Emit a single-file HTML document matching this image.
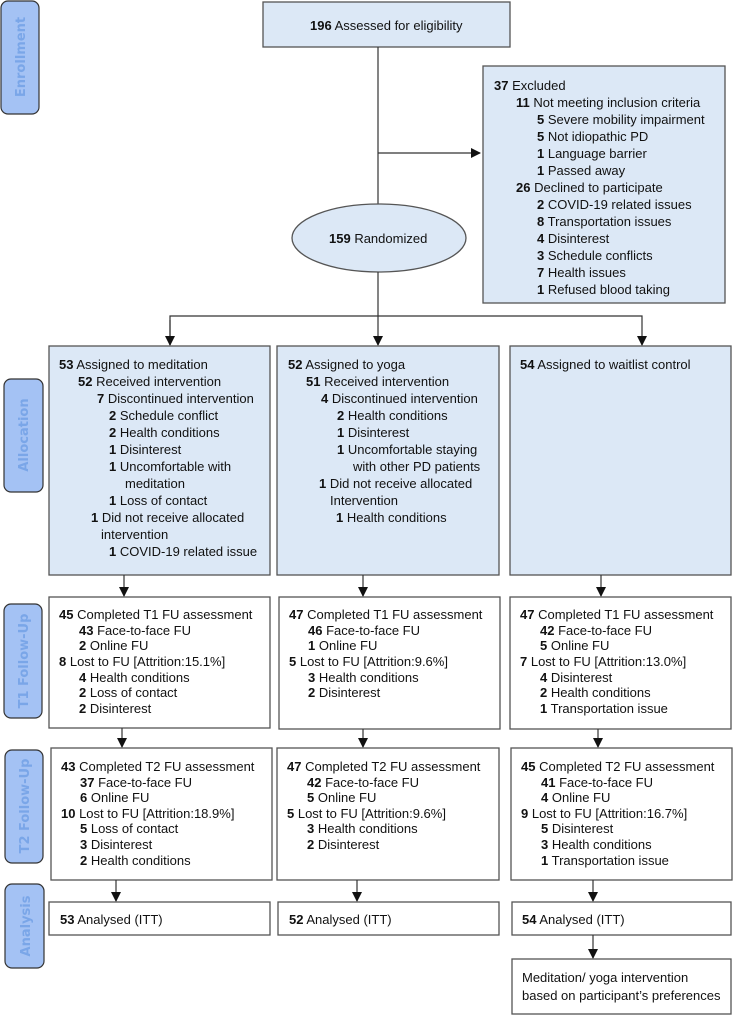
<!DOCTYPE html>
<html><head><meta charset="utf-8"><style>
html,body{margin:0;padding:0;background:#fff;}
svg{display:block;}
text{font-family:"Liberation Sans",Arial,sans-serif;font-size:13px;fill:#111;}
.b{font-weight:bold;}
.tab{fill:#a4c2f4;stroke:#333;stroke-width:1.2;}
.tt{font-family:"DejaVu Sans","Liberation Sans",sans-serif;font-weight:bold;font-size:13px;fill:#7aa6e8;}
.bx{fill:#dce8f6;stroke:#555;stroke-width:1.3;}
.wb{fill:#fff;stroke:#555;stroke-width:1.3;}
.ln{stroke:#333;stroke-width:1.2;fill:none;}
</style></head><body>
<svg width="733" height="1015" viewBox="0 0 733 1015" xmlns="http://www.w3.org/2000/svg">
<defs><marker id="a" markerWidth="10" markerHeight="10" refX="9" refY="5" orient="auto" markerUnits="userSpaceOnUse"><path d="M0,0 L10,5 L0,10 z" fill="#111"/></marker></defs>

<rect class="tab" x="1" y="1" width="38" height="113" rx="7"/>
<text class="tt" transform="translate(25,57) rotate(-90)" text-anchor="middle">Enrollment</text>
<rect class="tab" x="4" y="379" width="39" height="113" rx="7"/>
<text class="tt" transform="translate(28,435) rotate(-90)" text-anchor="middle">Allocation</text>
<rect class="tab" x="4" y="604" width="38" height="114" rx="7"/>
<text class="tt" transform="translate(28,661) rotate(-90)" text-anchor="middle">T1 Follow-Up</text>
<rect class="tab" x="5" y="750" width="38" height="113" rx="7"/>
<text class="tt" transform="translate(29,806) rotate(-90)" text-anchor="middle">T2 Follow-Up</text>
<rect class="tab" x="5" y="884" width="39" height="84" rx="7"/>
<text class="tt" transform="translate(30,926) rotate(-90)" text-anchor="middle">Analysis</text>

<rect class="bx" x="263" y="2" width="247" height="45"/>
<text x="310" y="30"><tspan class="b">196</tspan> Assessed for eligibility</text>
<line class="ln" x1="378" y1="47" x2="378" y2="204"/>
<line class="ln" x1="378" y1="153" x2="480" y2="153" marker-end="url(#a)"/>
<rect class="bx" x="483" y="66" width="242" height="237"/>
<g>
<text x="494" y="90"><tspan class="b">37</tspan> Excluded</text>
<text x="516" y="107"><tspan class="b">11</tspan> Not meeting inclusion criteria</text>
<text x="537" y="124"><tspan class="b">5</tspan> Severe mobility impairment</text>
<text x="537" y="141"><tspan class="b">5</tspan> Not idiopathic PD</text>
<text x="537" y="158"><tspan class="b">1</tspan> Language barrier</text>
<text x="537" y="175"><tspan class="b">1</tspan> Passed away</text>
<text x="516" y="192"><tspan class="b">26</tspan> Declined to participate</text>
<text x="537" y="209"><tspan class="b">2</tspan> COVID-19 related issues</text>
<text x="537" y="226"><tspan class="b">8</tspan> Transportation issues</text>
<text x="537" y="243"><tspan class="b">4</tspan> Disinterest</text>
<text x="537" y="260"><tspan class="b">3</tspan> Schedule conflicts</text>
<text x="537" y="277"><tspan class="b">7</tspan> Health issues</text>
<text x="537" y="294"><tspan class="b">1</tspan> Refused blood taking</text>
</g>
<ellipse class="bx" cx="379" cy="238" rx="87" ry="34"/>
<text x="329" y="243"><tspan class="b">159</tspan> Randomized</text>
<line class="ln" x1="378" y1="272" x2="378" y2="345" marker-end="url(#a)"/>
<polyline class="ln" points="170,345 170,316 642,316 642,345" marker-end="url(#a)"/>
<line class="ln" x1="170" y1="320" x2="170" y2="345" marker-end="url(#a)"/>

<rect class="bx" x="49" y="346" width="221" height="229"/>
<text x="59" y="369"><tspan class="b">53</tspan> Assigned to meditation</text>
<text x="78" y="386"><tspan class="b">52</tspan> Received intervention</text>
<text x="97" y="403"><tspan class="b">7</tspan> Discontinued intervention</text>
<text x="109" y="420"><tspan class="b">2</tspan> Schedule conflict</text>
<text x="109" y="437"><tspan class="b">2</tspan> Health conditions</text>
<text x="109" y="454"><tspan class="b">1</tspan> Disinterest</text>
<text x="109" y="471"><tspan class="b">1</tspan> Uncomfortable with</text>
<text x="125" y="488">meditation</text>
<text x="109" y="505"><tspan class="b">1</tspan> Loss of contact</text>
<text x="91" y="522"><tspan class="b">1</tspan> Did not receive allocated</text>
<text x="101" y="539">intervention</text>
<text x="109" y="556"><tspan class="b">1</tspan> COVID-19 related issue</text>

<rect class="bx" x="277" y="346" width="222" height="229"/>
<text x="288" y="369"><tspan class="b">52</tspan> Assigned to yoga</text>
<text x="306" y="386"><tspan class="b">51</tspan> Received intervention</text>
<text x="321" y="403"><tspan class="b">4</tspan> Discontinued intervention</text>
<text x="337" y="420"><tspan class="b">2</tspan> Health conditions</text>
<text x="337" y="437"><tspan class="b">1</tspan> Disinterest</text>
<text x="337" y="454"><tspan class="b">1</tspan> Uncomfortable staying</text>
<text x="353" y="471">with other PD patients</text>
<text x="319" y="488"><tspan class="b">1</tspan> Did not receive allocated</text>
<text x="330" y="505">Intervention</text>
<text x="336" y="522"><tspan class="b">1</tspan> Health conditions</text>

<rect class="bx" x="510" y="346" width="221" height="229"/>
<text x="520" y="369"><tspan class="b">54</tspan> Assigned to waitlist control</text>

<line class="ln" x1="124" y1="575" x2="124" y2="596" marker-end="url(#a)"/>
<line class="ln" x1="363" y1="575" x2="363" y2="596" marker-end="url(#a)"/>
<line class="ln" x1="601" y1="575" x2="601" y2="596" marker-end="url(#a)"/>

<rect class="wb" x="49" y="597" width="221" height="131"/>
<text x="59" y="619"><tspan class="b">45</tspan> Completed T1 FU assessment</text>
<text x="79" y="635"><tspan class="b">43</tspan> Face-to-face FU</text>
<text x="79" y="650"><tspan class="b">2</tspan> Online FU</text>
<text x="59" y="666"><tspan class="b">8</tspan> Lost to FU [Attrition:15.1%]</text>
<text x="79" y="682"><tspan class="b">4</tspan> Health conditions</text>
<text x="79" y="697"><tspan class="b">2</tspan> Loss of contact</text>
<text x="79" y="713"><tspan class="b">2</tspan> Disinterest</text>

<rect class="wb" x="279" y="597" width="221" height="132"/>
<text x="289" y="619"><tspan class="b">47</tspan> Completed T1 FU assessment</text>
<text x="308" y="635"><tspan class="b">46</tspan> Face-to-face FU</text>
<text x="308" y="650"><tspan class="b">1</tspan> Online FU</text>
<text x="289" y="666"><tspan class="b">5</tspan> Lost to FU [Attrition:9.6%]</text>
<text x="308" y="682"><tspan class="b">3</tspan> Health conditions</text>
<text x="308" y="697"><tspan class="b">2</tspan> Disinterest</text>

<rect class="wb" x="510" y="597" width="221" height="132"/>
<text x="520" y="619"><tspan class="b">47</tspan> Completed T1 FU assessment</text>
<text x="540" y="635"><tspan class="b">42</tspan> Face-to-face FU</text>
<text x="540" y="650"><tspan class="b">5</tspan> Online FU</text>
<text x="520" y="666"><tspan class="b">7</tspan> Lost to FU [Attrition:13.0%]</text>
<text x="540" y="682"><tspan class="b">4</tspan> Disinterest</text>
<text x="540" y="697"><tspan class="b">2</tspan> Health conditions</text>
<text x="540" y="713"><tspan class="b">1</tspan> Transportation issue</text>

<line class="ln" x1="122" y1="728" x2="122" y2="747" marker-end="url(#a)"/>
<line class="ln" x1="363" y1="729" x2="363" y2="747" marker-end="url(#a)"/>
<line class="ln" x1="598" y1="729" x2="598" y2="747" marker-end="url(#a)"/>

<rect class="wb" x="51" y="748" width="221" height="132"/>
<text x="61" y="771"><tspan class="b">43</tspan> Completed T2 FU assessment</text>
<text x="80" y="787"><tspan class="b">37</tspan> Face-to-face FU</text>
<text x="80" y="802"><tspan class="b">6</tspan> Online FU</text>
<text x="61" y="818"><tspan class="b">10</tspan> Lost to FU [Attrition:18.9%]</text>
<text x="80" y="833"><tspan class="b">5</tspan> Loss of contact</text>
<text x="80" y="849"><tspan class="b">3</tspan> Disinterest</text>
<text x="80" y="865"><tspan class="b">2</tspan> Health conditions</text>

<rect class="wb" x="277" y="748" width="222" height="132"/>
<text x="287" y="771"><tspan class="b">47</tspan> Completed T2 FU assessment</text>
<text x="307" y="787"><tspan class="b">42</tspan> Face-to-face FU</text>
<text x="307" y="802"><tspan class="b">5</tspan> Online FU</text>
<text x="287" y="818"><tspan class="b">5</tspan> Lost to FU [Attrition:9.6%]</text>
<text x="307" y="833"><tspan class="b">3</tspan> Health conditions</text>
<text x="307" y="849"><tspan class="b">2</tspan> Disinterest</text>

<rect class="wb" x="511" y="748" width="221" height="132"/>
<text x="521" y="771"><tspan class="b">45</tspan> Completed T2 FU assessment</text>
<text x="541" y="787"><tspan class="b">41</tspan> Face-to-face FU</text>
<text x="541" y="802"><tspan class="b">4</tspan> Online FU</text>
<text x="521" y="818"><tspan class="b">9</tspan> Lost to FU [Attrition:16.7%]</text>
<text x="541" y="833"><tspan class="b">5</tspan> Disinterest</text>
<text x="541" y="849"><tspan class="b">3</tspan> Health conditions</text>
<text x="541" y="865"><tspan class="b">1</tspan> Transportation issue</text>

<line class="ln" x1="116" y1="880" x2="116" y2="901" marker-end="url(#a)"/>
<line class="ln" x1="357" y1="880" x2="357" y2="901" marker-end="url(#a)"/>
<line class="ln" x1="593" y1="880" x2="593" y2="901" marker-end="url(#a)"/>

<rect class="wb" x="49" y="902" width="221" height="33"/>
<text x="60" y="924"><tspan class="b">53</tspan> Analysed (ITT)</text>
<rect class="wb" x="278" y="902" width="221" height="33"/>
<text x="289" y="924"><tspan class="b">52</tspan> Analysed (ITT)</text>
<rect class="wb" x="512" y="902" width="219" height="33"/>
<text x="522" y="924"><tspan class="b">54</tspan> Analysed (ITT)</text>

<line class="ln" x1="593" y1="935" x2="593" y2="958" marker-end="url(#a)"/>
<rect class="wb" x="512" y="959" width="219" height="55"/>
<text x="522" y="982">Meditation/ yoga intervention</text>
<text x="522" y="1000">based on participant’s preferences</text>
</svg>
</body></html>
